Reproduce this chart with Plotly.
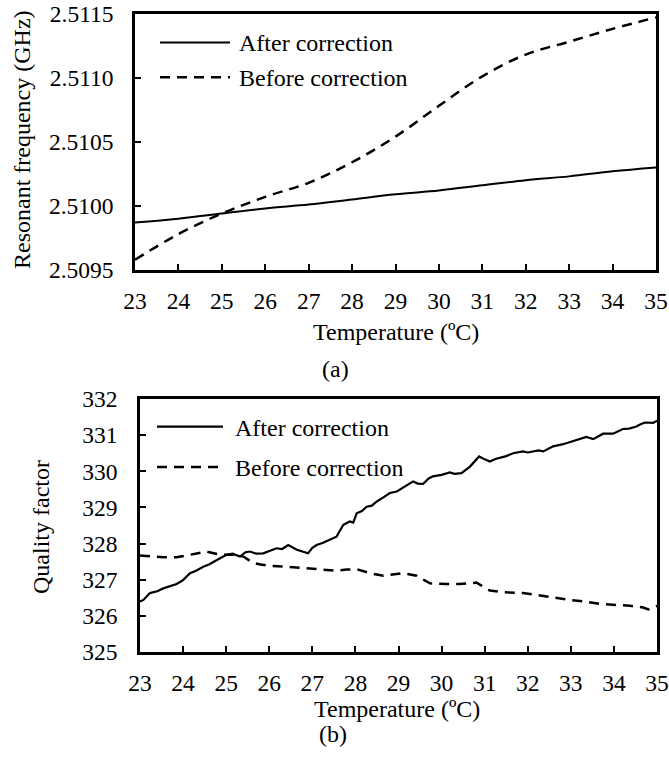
import plotly.graph_objects as go

# ---- (a) resonant frequency vs temperature ----
temp_a = [23, 24, 25, 26, 27, 28, 29, 30, 31, 32, 33, 34, 35]
freq_after = [2.50987, 2.50990, 2.50994, 2.50998, 2.51001, 2.51005, 2.51009,
              2.51012, 2.51016, 2.51020, 2.51023, 2.51027, 2.51030]
freq_before = [2.50958, 2.50978, 2.50994, 2.51007, 2.51018, 2.51034, 2.51054,
               2.51078, 2.51101, 2.51118, 2.51128, 2.51138, 2.51147]

# ---- (b) quality factor vs temperature ----
temp_b_after = [23.0, 23.08, 23.23, 23.4, 23.54, 23.7, 23.85, 24.0, 24.16, 24.3,
                24.47, 24.6, 24.78, 24.9, 25.01, 25.15, 25.32, 25.45, 25.55, 25.7,
                25.86, 26.0, 26.17, 26.3, 26.44, 26.64, 26.8, 26.9, 27.0, 27.1,
                27.25, 27.41, 27.56, 27.72, 27.87, 27.95, 28.03, 28.15, 28.26, 28.38,
                28.49, 28.65, 28.8, 28.96, 29.03, 29.2, 29.34, 29.45, 29.57, 29.7,
                29.8, 30.0, 30.19, 30.3, 30.46, 30.66, 30.87, 31.0, 31.12, 31.25,
                31.35, 31.5, 31.66, 31.89, 32.0, 32.13, 32.25, 32.36, 32.48, 32.59,
                32.82, 32.95, 33.05, 33.2, 33.36, 33.52, 33.65, 33.75, 33.98, 34.1,
                34.21, 34.35, 34.52, 34.62, 34.72, 34.91, 35.0]
q_after = [326.40, 326.44, 326.63, 326.68, 326.76, 326.82, 326.88, 326.99, 327.18, 327.25,
           327.36, 327.42, 327.55, 327.62, 327.69, 327.72, 327.64, 327.76, 327.78, 327.72,
           327.73, 327.80, 327.87, 327.85, 327.96, 327.83, 327.76, 327.73, 327.88, 327.96,
           328.02, 328.10, 328.19, 328.52, 328.61, 328.58, 328.84, 328.90, 329.02, 329.05,
           329.16, 329.28, 329.40, 329.44, 329.49, 329.60, 329.72, 329.66, 329.65, 329.80,
           329.86, 329.90, 329.97, 329.93, 329.95, 330.13, 330.41, 330.33, 330.27, 330.34,
           330.37, 330.42, 330.50, 330.55, 330.52, 330.55, 330.58, 330.55, 330.62, 330.69,
           330.75, 330.80, 330.85, 330.90, 330.95, 330.89, 330.98, 331.04, 331.04, 331.10,
           331.17, 331.18, 331.24, 331.30, 331.35, 331.34, 331.40]

temp_b_before = [23.0, 23.08, 23.3, 23.54, 23.85, 24.16, 24.35, 24.55, 24.86, 25.16,
                 25.4, 25.63, 25.8, 26.02, 26.4, 26.79, 27.18, 27.56, 27.8, 28.03,
                 28.34, 28.65, 28.96, 29.11, 29.42, 29.73, 30.12, 30.42, 30.81, 31.12,
                 31.51, 31.89, 32.2, 32.59, 32.98, 33.36, 33.67, 34.06, 34.37, 34.68,
                 34.8, 34.91, 35.0]
q_before = [327.67, 327.66, 327.64, 327.62, 327.62, 327.69, 327.72, 327.78, 327.69, 327.69,
            327.64, 327.46, 327.42, 327.38, 327.36, 327.32, 327.30, 327.25, 327.28, 327.29,
            327.18, 327.11, 327.16, 327.18, 327.11, 326.90, 326.88, 326.88, 326.92, 326.70,
            326.65, 326.63, 326.58, 326.50, 326.44, 326.39, 326.33, 326.30, 326.28, 326.23,
            326.18, 326.25, 326.27]

labels = ["After correction", "Before correction"]
x_ticks = list(range(23, 36))
yticks_a = [2.5095, 2.5100, 2.5105, 2.5110, 2.5115]
yticks_b = [325, 326, 327, 328, 329, 330, 331, 332]

W, H = 669, 758
FONT = "Liberation Serif, Times New Roman, serif"
DASH = "10px,7px"


def px(x):
    return x / W


def py(y):
    return 1 - y / H


fig = go.Figure()
fig.add_trace(go.Scatter(x=temp_a, y=freq_after, mode="lines", xaxis="x", yaxis="y",
                         line=dict(color="black", width=2, shape="spline"), name=labels[0]))
fig.add_trace(go.Scatter(x=temp_a, y=freq_before, mode="lines", xaxis="x", yaxis="y",
                         line=dict(color="black", width=2.5, dash=DASH, shape="spline"),
                         name=labels[1]))
fig.add_trace(go.Scatter(x=temp_b_after, y=q_after, mode="lines", xaxis="x2", yaxis="y2",
                         line=dict(color="black", width=2.2), name=labels[0]))
fig.add_trace(go.Scatter(x=temp_b_before, y=q_before, mode="lines", xaxis="x2", yaxis="y2",
                         line=dict(color="black", width=2.5, dash=DASH), name=labels[1]))

axis_common = dict(showline=True, linewidth=2.5, linecolor="black", mirror=True,
                   ticks="inside", ticklen=6, tickwidth=2, tickcolor="black",
                   showgrid=False, zeroline=False, automargin=False,
                   tickfont=dict(family=FONT, size=23.5, color="black"))

fig.update_layout(
    width=W, height=H,
    margin=dict(l=0, r=0, t=0, b=0, autoexpand=False),
    paper_bgcolor="white", plot_bgcolor="white",
    showlegend=False,
    font=dict(family=FONT, size=24, color="black"),
    xaxis=dict(domain=[px(135), px(656)], range=[23, 35], tickvals=x_ticks,
               anchor="y", ticklabelstandoff=8, **axis_common),
    yaxis=dict(domain=[py(270), py(13.5)], range=[2.5095, 2.5115], tickvals=yticks_a,
               tickformat=".4f", anchor="x", ticklabelstandoff=14, **axis_common),
    xaxis2=dict(domain=[px(140), px(657)], range=[23, 35], tickvals=x_ticks,
                anchor="y2", ticklabelstandoff=8, **axis_common),
    yaxis2=dict(domain=[py(652), py(399)], range=[325, 332], tickvals=yticks_b,
                anchor="x2", ticklabelstandoff=15, **axis_common),
)

# legend samples and texts drawn inside each panel
shapes = []
annotations = []
legend_rows = [
    # (x0, x1, y of solid, y of dashed, text x)
    (160, 230, 42.5, 77.3, 237),
    (157, 223, 426.7, 467, 233),
]
for x0, x1, y_solid, y_dash, tx in legend_rows:
    shapes.append(dict(type="line", xref="paper", yref="paper", x0=px(x0), x1=px(x1),
                       y0=py(y_solid), y1=py(y_solid), line=dict(color="black", width=2.2)))
    shapes.append(dict(type="line", xref="paper", yref="paper", x0=px(x0), x1=px(x1),
                       y0=py(y_dash), y1=py(y_dash), line=dict(color="black", width=2.5, dash=DASH)))
    for yy, txt in ((y_solid, labels[0]), (y_dash, labels[1])):
        annotations.append(dict(text=txt, xref="paper", yref="paper", x=px(tx), y=py(yy + 1),
                                xanchor="left", yanchor="middle", showarrow=False,
                                font=dict(family=FONT, size=24, color="black")))

# axis titles and panel captions
texts = [
    ("Resonant frequency (GHz)", 22, 140, -90),
    ("Temperature (ºC)", 396, 332, 0),
    ("(a)", 335, 369, 0),
    ("Quality factor", 41, 527, -90),
    ("Temperature (ºC)", 397, 709, 0),
    ("(b)", 333, 734, 0),
]
for txt, x, y, ang in texts:
    annotations.append(dict(text=txt, xref="paper", yref="paper", x=px(x), y=py(y),
                            xanchor="center", yanchor="middle", showarrow=False,
                            textangle=ang, font=dict(family=FONT, size=24, color="black")))

fig.update_layout(shapes=shapes, annotations=annotations)
fig.write_html("out.html")
